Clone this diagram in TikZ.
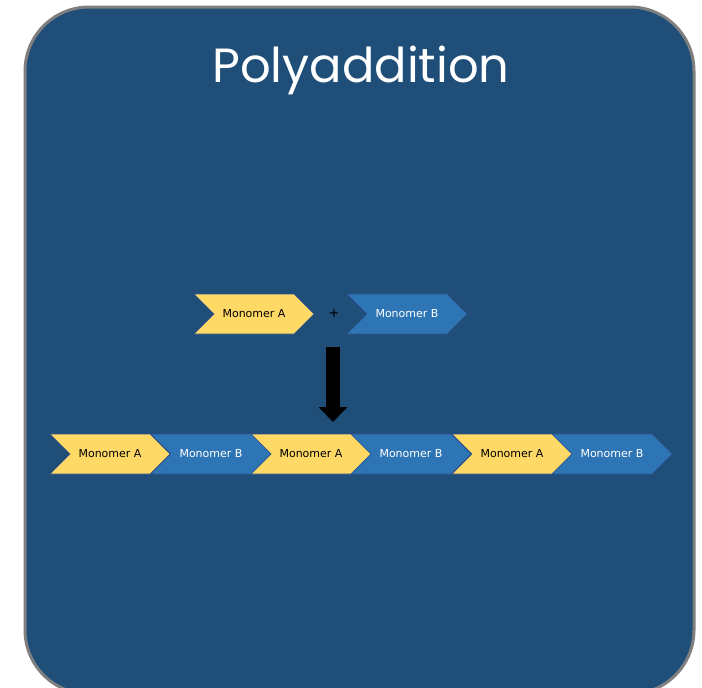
\documentclass[tikz,border=0pt]{standalone}
\usepackage{fontspec}
\setmainfont{DejaVu Sans}
\newfontfamily\titlefont{Poppins}
\usetikzlibrary{shapes.symbols,positioning,arrows.meta}
\definecolor{panelblue}{HTML}{1F4E79}
\definecolor{panelgray}{HTML}{7F7F7F}
\definecolor{monoyellow}{HTML}{FFD966}
\definecolor{monoblue}{HTML}{2E75B6}
\definecolor{monoline}{HTML}{2F528F}
\tikzset{
  mono/.style={signal, signal from=west, signal to=east, signal pointer angle=90,
    minimum width=120pt, minimum height=40pt, inner sep=0pt, draw=monoline,
    line width=0.6pt, font=\fontsize{11}{13}\selectfont},
  monoA/.style={mono, fill=monoyellow, text=black},
  monoB/.style={mono, fill=monoblue, text=white},
}
\begin{document}
\begin{tikzpicture}[x=1pt, y=-1pt, >=Triangle]
\useasboundingbox (0,0) rectangle (702,688);
\draw[rounded corners=64pt, fill=panelblue, draw=panelgray, line width=3pt] (25,7) rectangle (694,694);

\node[anchor=base, text=white, font=\titlefont\fontsize{48}{56}\selectfont] (title) at (361,82) {Polyaddition};

% monomers
\node[monoA] (ma) at (254,314) {Monomer A};
\node[text=black, font=\fontsize{13}{15}\selectfont] (plus) at (334,313) {+};
\node[monoB] (mb) at (407,314) {Monomer B};

\coordinate (arrtop) at (333,347);
\coordinate (arrbot) at (333,422);
\draw[->, line width=14pt, -{Triangle[width=28pt, length=15pt]}] (arrtop) -- (arrbot);

% polymer chain
\foreach \i/\x in {1/110,2/311,3/512}
{
    \node[monoA] (a\i) at (\x,454) {Monomer A};
}
\foreach \i/\x in {1/211,2/411,3/612}
{
    \node[monoB] (b\i) at (\x,454) {Monomer B};
}
\end{tikzpicture}
\end{document}
